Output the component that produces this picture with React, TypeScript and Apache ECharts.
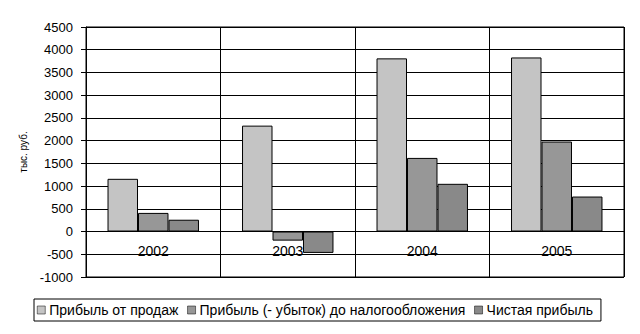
import React, { useEffect, useRef } from "react";
import * as echarts from "echarts";

const categories = ["2002", "2003", "2004", "2005"];
const salesProfit = [1160, 2330, 3810, 3830];
const preTaxProfit = [410, -200, 1620, 1980];
const netProfit = [260, -470, 1050, 770];
const seriesNames = [
  "Прибыль от продаж",
  "Прибыль (- убыток) до налогообложения",
  "Чистая прибыль",
];
const yAxisTitle = "тыс. руб.";
const yMin = -1000;
const yMax = 4500;

export default function App() {
  const ref = useRef<HTMLDivElement>(null);
  useEffect(() => {
    if (!ref.current) return;
    const chart = echarts.init(ref.current, null, { renderer: "svg" });
    const font = "Arial, 'Liberation Sans', sans-serif";
    const colors = ["#c4c4c4", "#979797", "#898989"];
    const data = [salesProfit, preTaxProfit, netProfit];
    const gridTop = 27;
    const gridBottom = 57;
    const plotH = 334 - gridTop - gridBottom;
    const zeroOffset = -(plotH * (0 - yMin)) / (yMax - yMin);
    chart.setOption({
      animation: false,
      backgroundColor: "#ffffff",
      textStyle: { fontFamily: font },
      grid: {
        left: 86,
        right: 16,
        top: gridTop,
        bottom: gridBottom,
        show: true,
        borderColor: "#000",
        borderWidth: 1,
        backgroundColor: "transparent",
      },
      legend: {
        data: seriesNames,
        top: 299,
        left: 34,
        icon: "rect",
        itemWidth: 8,
        itemHeight: 8,
        itemGap: 9,
        borderColor: "#000",
        borderWidth: 1,
        padding: [4, 8, 4, 3],
        textStyle: { fontFamily: font, fontSize: 14, color: "#000", padding: [0, 0, 0, -1] },
        itemStyle: { borderColor: "#000", borderWidth: 0.5 },
      },
      xAxis: {
        type: "category",
        data: categories,
        offset: zeroOffset,
        axisLine: { show: false, onZero: false },
        axisTick: { show: false },
        axisLabel: { color: "#000", fontSize: 14, fontFamily: font, margin: 12 },
        splitLine: { show: true, lineStyle: { color: "#000", width: 1 } },
        z: 5,
      },
      yAxis: {
        type: "value",
        min: yMin,
        max: yMax,
        interval: 500,
        name: yAxisTitle,
        nameLocation: "middle",
        nameRotate: 90,
        nameGap: 57,
        nameTextStyle: { color: "#000", fontSize: 10, fontFamily: font },
        axisLine: { show: true, lineStyle: { color: "#000" } },
        axisTick: { show: true, length: 5, lineStyle: { color: "#000" } },
        axisLabel: {
          color: "#000",
          fontSize: 13,
          fontFamily: font,
          margin: 13,
          formatter: (v: number) => String(v),
        },
        splitLine: { show: true, lineStyle: { color: "#000", width: 1 } },
      },
      series: seriesNames.map((name, i) => ({
        name,
        type: "bar",
        data: data[i],
        barGap: "0%",
        barCategoryGap: "32%",
        itemStyle: { color: colors[i], borderColor: "#000", borderWidth: 1 },
      })),
    });
    return () => chart.dispose();
  }, []);
  return (
    <div
      ref={ref}
      style={{ position: "fixed", left: 0, top: 0, width: 640, height: 334 }}
    />
  );
}
